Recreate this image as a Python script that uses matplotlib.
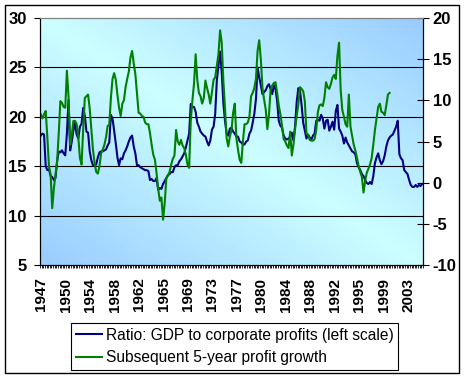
import numpy as np
import matplotlib.pyplot as plt
from matplotlib.patches import Rectangle

plt.rcParams['font.family'] = ['Liberation Sans', 'DejaVu Sans']

# quarterly data, starting 1947 Q1
ratio = [18.1, 18.3, 18.2, 15.0, 14.6, 14.7, 14.0, 13.9, 13.6, 13.8,
         15.5, 16.5, 16.4, 16.6, 16.3, 16.1, 18.3, 21.7, 16.6, 17.5,
         18.6, 19.4, 18.2, 17.8, 19.0, 19.3, 20.9, 20.1, 18.5, 18.4,
         16.5, 15.6, 15.1, 15.0, 15.2, 15.9, 16.4, 16.5, 16.5, 16.6,
         16.7, 17.1, 17.4, 20.2, 19.8, 18.6, 17.3, 15.9, 15.1, 15.8,
         15.7, 16.3, 16.6, 17.0, 17.5, 17.9, 18.1, 17.0, 16.3, 15.1,
         15.1, 14.9, 14.8, 14.7, 14.6, 14.6, 14.5, 13.6, 13.7, 13.5,
         13.5, 13.8, 12.6, 12.8, 12.7, 13.2, 13.5, 13.8, 14.1, 14.2,
         14.4, 14.4, 14.9, 15.1, 15.1, 15.5, 15.7, 16.0, 16.3, 16.9,
         17.6, 18.3, 21.3, 21.0, 21.0, 20.5, 19.4, 19.0, 18.5, 18.3,
         18.1, 18.0, 17.5, 17.1, 17.6, 18.7, 19.0, 20.3, 23.7, 25.2,
         26.6, 24.5, 21.4, 19.6, 18.3, 18.1, 18.8, 18.9, 18.5, 18.3,
         18.0, 18.0, 17.5, 17.4, 17.2, 17.2, 17.5, 17.6, 18.3, 18.6,
         19.4, 20.3, 21.8, 25.0, 24.0, 23.2, 22.3, 22.5, 22.7, 23.1,
         23.3, 22.8, 22.3, 23.2, 22.8, 21.6, 19.6, 19.1, 18.9, 18.1,
         17.8, 17.7, 17.8, 18.0, 18.4, 17.6, 19.0, 21.5, 22.9, 22.7,
         21.2, 19.4, 18.6, 17.8, 18.2, 17.9, 17.7, 18.1, 18.3, 19.6,
         19.7, 19.6, 20.2, 19.8, 18.8, 19.6, 19.7, 18.6, 19.0, 19.5,
         18.7, 20.6, 21.2, 18.8, 18.5, 18.1, 17.3, 17.9, 17.4, 17.1,
         16.8, 16.5, 16.4, 16.2, 15.3, 14.9, 14.6, 14.2, 14.0, 13.6,
         13.3, 13.2, 13.4, 13.2, 14.0, 15.3, 15.9, 16.3, 15.6, 15.2,
         15.5, 16.1, 17.0, 17.6, 17.9, 18.1, 18.2, 18.6, 19.0, 19.6,
         16.2, 15.8, 15.6, 14.6, 14.4, 14.2, 13.6, 13.1, 12.9, 12.9,
         13.1, 12.9, 13.1, 13.0, 13.2]

growth = [8.3, 7.8, 8.3, 8.7, 5.5, 2.0, 1.0, -3.1, -0.7, 0.9,
          2.6, 6.0, 9.9, 9.7, 9.2, 9.1, 13.6, 10.5, 4.6, 5.8,
          7.5, 7.5, 7.1, 5.5, 3.0, 2.2, 6.5, 10.3, 10.5, 10.7,
          9.0, 6.5, 4.0, 2.4, 1.3, 1.1, 2.0, 3.6, 4.0, 4.6,
          5.5, 6.9, 7.0, 10.3, 12.6, 13.3, 12.5, 10.7, 9.1, 8.1,
          9.6, 10.0, 11.6, 12.6, 13.5, 15.2, 16.0, 14.5, 13.2, 10.8,
          8.5, 8.4, 8.1, 8.0, 7.3, 7.1, 7.1, 6.0, 4.6, 3.4,
          2.8, 1.2, -0.7, -2.2, -1.8, -4.5, -2.5, 0.5, 0.9, 1.3,
          2.2, 2.9, 3.3, 6.4, 5.0, 4.6, 5.2, 4.5, 4.2, 3.4,
          2.2, 1.8, 7.5, 10.0, 12.0, 15.6, 12.5, 10.9, 10.5, 9.6,
          10.3, 12.4, 11.5, 10.7, 9.6, 11.0, 12.5, 12.8, 14.2, 15.6,
          18.5, 17.0, 12.4, 9.1, 5.4, 4.4, 5.6, 6.4, 8.5, 9.6,
          5.4, 4.0, 2.8, 2.4, 5.0, 7.1, 7.1, 7.3, 8.0, 10.5,
          10.9, 11.5, 12.6, 16.0, 17.3, 15.0, 11.5, 10.1, 8.9, 6.5,
          8.3, 11.3, 11.8, 12.1, 12.2, 10.9, 9.4, 8.3, 6.9, 5.3,
          5.0, 4.5, 4.2, 6.2, 3.3, 4.6, 6.5, 8.1, 9.5, 11.6,
          11.4, 11.1, 9.9, 6.0, 5.8, 5.2, 5.1, 5.1, 5.3, 6.4,
          8.6, 9.4, 9.5, 9.3, 10.3, 12.2, 11.6, 11.4, 12.0, 12.8,
          13.1, 12.6, 15.4, 17.0, 11.2, 8.8, 8.0, 7.1, 6.8, 10.7,
          6.8, 5.7, 4.6, 3.9, 3.0, 2.0, 1.3, 0.7, -1.2, 0.2,
          1.2, 1.7, 2.2, 3.0, 4.6, 6.4, 7.8, 9.2, 9.6, 8.6,
          8.5, 8.2, 9.4, 10.7, 10.9]

year_labels = ['1947', '1950', '1954', '1958', '1962', '1965', '1969', '1973',
               '1977', '1980', '1984', '1988', '1992', '1995', '1999', '2003']
label_step = 15

W, H = 466, 379
fig = plt.figure(figsize=(W / 100, H / 100), dpi=100)
ax = fig.add_axes([40 / W, 1 - 265 / H, 383 / W, 247 / H])

# diagonal gradient background
u = np.linspace(0, 1, 300)
v = np.linspace(1, 0, 200)
U, V = np.meshgrid(u, v)
t = np.abs(U + V - 1)[..., None]
c_light = np.array([0xCC, 0xFF, 0xFF]) / 255
c_blue = np.array([0x99, 0xCC, 0xFF]) / 255
ax.imshow(c_light * (1 - t) + c_blue * t, extent=[0, 1, 0, 1],
          transform=ax.transAxes, aspect='auto', zorder=0)

n = len(ratio)
h1, = ax.plot(np.arange(n) + 0.5, ratio, color='#000080', lw=1.5, zorder=3)
for y in (10, 15, 20, 25):
    ax.axhline(y, color='black', lw=0.8, zorder=1)
ax.set_xlim(0, n)
ax.set_ylim(5, 30)

ax2 = ax.twinx()
h2, = ax2.plot(np.arange(len(growth)) + 0.5, growth, color='#008000', lw=1.5)
ax2.set_ylim(-10, 20)

# axes, ticks
ax.set_yticks(range(5, 31, 5), [str(v) for v in range(5, 31, 5)],
              fontweight='bold', fontsize=12)
ax.tick_params(axis='y', direction='out', length=4.5, width=0.8, pad=5)
ax2.set_yticks(range(-10, 21, 5), [str(v) for v in range(-10, 21, 5)],
               fontweight='bold', fontsize=12)
ax2.tick_params(axis='y', direction='inout', length=8, width=0.8, pad=3)

pos = [i * label_step + 0.8 for i in range(len(year_labels))]
ax.set_xticks(pos, year_labels, rotation=90, fontweight='bold', fontsize=11)
ax.set_xticks(np.arange(0, n + 1), minor=True)
ax.tick_params(axis='x', which='major', length=0, pad=9)
ax.tick_params(axis='x', which='minor', direction='out', length=2.5, width=0.6)

for a in (ax, ax2):
    for s in a.spines.values():
        s.set_linewidth(0.8)
    a.spines['top'].set_color('#808080')

leg = fig.legend([h1, h2], ['Ratio: GDP to corporate profits (left scale)',
                            'Subsequent 5-year profit growth'],
                 loc='upper left', bbox_to_anchor=(71 / W, 1 - 373 / H, 327 / W, 50 / H),
                 mode='expand', fontsize=11.2, fancybox=False, edgecolor='black',
                 framealpha=1, borderpad=0.3, handlelength=1.7, handletextpad=0.25,
                 labelspacing=0.5, borderaxespad=0)
leg.get_frame().set_linewidth(0.8)

fig.add_artist(Rectangle((5 / W, 1 - 373 / H), 454 / W, 368 / H, transform=fig.transFigure,
                         fill=False, edgecolor='black', lw=1))

fig.savefig('out.png', dpi=100)
